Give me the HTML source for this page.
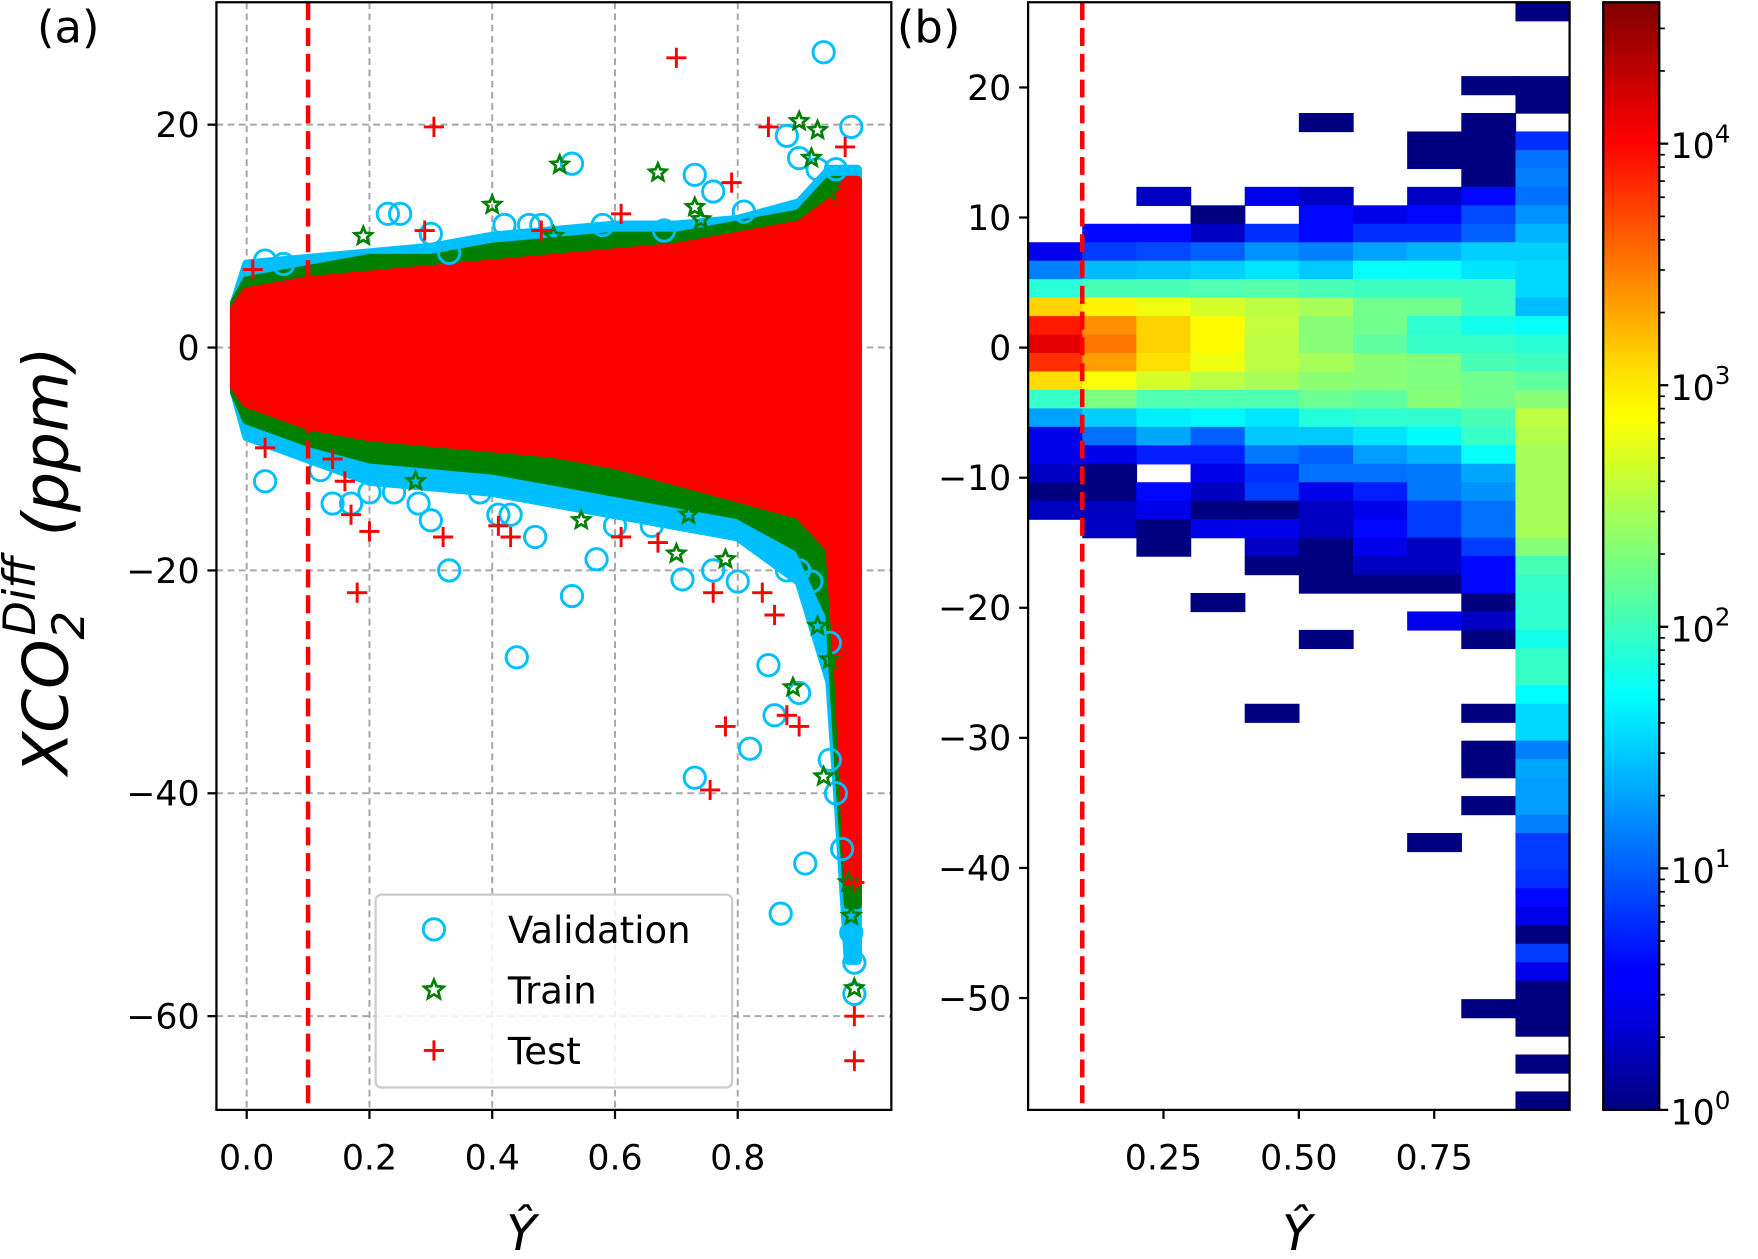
<!DOCTYPE html>
<html><head><meta charset="utf-8">
<style>
html,body{margin:0;padding:0;background:#fff;}
svg{display:block;font-family:"DejaVu Sans","Liberation Sans",sans-serif;}
</style></head>
<body>
<svg id="fig" width="1758" height="1259" viewBox="0 0 1568 1123" xmlns="http://www.w3.org/2000/svg">
<defs>
<linearGradient id="jetgrad" x1="0" y1="1" x2="0" y2="0">
<stop offset="0" stop-color="#000080"/><stop offset="0.11" stop-color="#0000ff"/>
<stop offset="0.125" stop-color="#0000ff"/><stop offset="0.34" stop-color="#00dcff"/>
<stop offset="0.375" stop-color="#00ffff" /><stop offset="0.5" stop-color="#7dff7a"/>
<stop offset="0.625" stop-color="#ffff00"/><stop offset="0.66" stop-color="#ffe600"/>
<stop offset="0.875" stop-color="#ff0000"/><stop offset="1" stop-color="#800000"/>
</linearGradient>
<clipPath id="clipA"><rect x="193" y="2" width="602" height="988"/></clipPath>
<clipPath id="clipB"><rect x="917" y="2" width="483" height="988"/></clipPath>
</defs>
<g id="panelA"></g>
<g id="panelB"></g>
<g id="cbar"></g>
</svg>
<script>
// ---------- Panel (a) data ----------
const bandX    = [-0.02, 0.0, 0.1, 0.2, 0.3, 0.4, 0.5, 0.6, 0.7, 0.8, 0.9, 0.95, 0.965, 0.98, 0.995];
const valUpper = [4, 7.5, 8, 8.5, 9, 10, 10.5, 11, 11, 11.5, 13, 16, 16, 16, 16];
const valLower = [-4, -8, -10, -12, -12.5, -13, -14, -15, -16, -17, -21, -30, -42, -55, -55];
const trnUpper = [4, 6, 7, 8, 8, 9, 9.5, 10, 10, 11, 12, 15, 15, 15, 15];
const trnLower = [-4, -6.5, -8.5, -10, -10.5, -11, -12, -13, -14, -15, -18, -24, -38, -50, -50];
const tstUpper = [3.5, 5, 6, 6.5, 7, 7.5, 8, 8.5, 9, 10, 11, 13, 14, 15, 15];
const tstLower = [-3.5, -5, -7, -8, -8.5, -9, -9.5, -10.5, -12, -13.5, -15, -18, -30, -48, -48];
const valX = [0.94,0.985,0.53,0.73,0.76,0.81,0.23,0.25,0.42,0.46,0.48,0.58,0.68,0.30,0.33,0.03,0.06,0.88,0.90,0.93,0.96,0.12,0.03,0.14,0.17,0.20,0.24,0.28,0.30,0.33,0.38,0.41,0.43,0.47,0.53,0.44,0.57,0.60,0.66,0.71,0.76,0.80,0.85,0.86,0.82,0.73,0.91,0.87,0.99,0.985,0.97,0.96,0.95,0.90,0.88,0.90,0.92,0.95,0.99];
const valY = [26.5,19.8,16.5,15.5,14,12.2,12,12,11,11,11,11,10.5,10.2,8.5,7.8,7.5,19,17,16,16,-11,-12,-14,-14,-13,-13,-14,-15.5,-20,-13,-15,-15,-17,-22.3,-27.8,-19,-16,-16,-20.8,-20,-21,-28.5,-33,-36,-38.6,-46.3,-50.8,-55.2,-52.5,-45,-40,-37,-31,-20,-20,-21,-26.5,-58];
const trnX = [0.90,0.93,0.51,0.67,0.73,0.74,0.40,0.19,0.50,0.92,0.95,0.275,0.545,0.72,0.70,0.78,0.89,0.94,0.99,0.985,0.98,0.93,0.95];
const trnY = [20.3,19.5,16.4,15.7,12.6,11.5,12.8,10,10,17,14,-12,-15.5,-15,-18.5,-19,-30.5,-38.5,-57.5,-51,-48,-25,-28];
const tstX = [0.70,0.305,0.85,0.975,0.79,0.61,0.48,0.29,0.01,0.03,0.20,0.18,0.17,0.32,0.41,0.43,0.61,0.67,0.76,0.84,0.86,0.78,0.755,0.88,0.90,0.99,0.99,0.99,0.14,0.16];
const tstY = [26,19.8,19.8,18,14.8,12,10.5,10.5,7,-9,-16.5,-22,-15,-17,-16,-17,-17,-17.5,-22,-22,-24,-34,-39.7,-33,-34,-60,-64,-48,-10,-12];
const xTicksA = [0.0, 0.2, 0.4, 0.6, 0.8];
const yTicksA = [20, 0, -20, -40, -60];
const threshold = 0.1;

// ---------- Panel (b) data: counts per Y-hat bin (10 columns), 60 y-bins from top ----------
const binXEdges = [0,0.1,0.2,0.3,0.4,0.5,0.6,0.7,0.8,0.9,1.0];
const yMinB = -58.6, yMaxB = 26.55, nYBins = 60;
const col0 = [0,0,0,0,0,0,0,0,0,0,0,0,0,3,14,79,1175,7943,13490,6310,1047,93,20,3,3,2,1,2,0,0,0,0,0,0,0,0,0,0,0,0,0,0,0,0,0,0,0,0,0,0,0,0,0,0,0,0,0,0,0,0];
const col1 = [0,0,0,0,0,0,0,0,0,0,0,0,4,7,26,112,832,2344,3020,1995,692,195,32,12,3,1,1,2,2,0,0,0,0,0,0,0,0,0,0,0,0,0,0,0,0,0,0,0,0,0,0,0,0,0,0,0,0,0,0,0];
const col2 = [0,0,0,0,0,0,0,0,0,0,2,0,4,8,28,112,631,1175,1175,1000,479,120,45,21,5,0,4,3,1,1,0,0,0,0,0,0,0,0,0,0,0,0,0,0,0,0,0,0,0,0,0,0,0,0,0,0,0,0,0,0];
const col3 = [0,0,0,0,0,0,0,0,0,0,0,1,2,10,32,120,479,759,759,631,372,120,50,10,5,3,2,1,3,0,0,0,1,0,0,0,0,0,0,0,0,0,0,0,0,0,0,0,0,0,0,0,0,0,0,0,0,0,0,0];
const col4 = [0,0,0,0,0,0,0,0,0,0,3,0,6,17,40,126,372,398,372,372,295,120,40,30,13,6,7,1,3,2,1,0,0,0,0,0,0,0,1,0,0,0,0,0,0,0,0,0,0,0,0,0,0,0,0,0,0,0,0,0];
const col5 = [0,0,0,0,0,0,1,0,0,0,2,4,4,14,30,112,295,214,214,295,224,158,76,30,10,12,3,2,2,1,1,1,0,0,1,0,0,0,0,0,0,0,0,0,0,0,0,0,0,0,0,0,0,0,0,0,0,0,0,0];
const col6 = [0,0,0,0,0,0,0,0,0,0,0,3,6,20,56,100,170,170,141,214,214,141,85,40,19,12,5,3,4,3,2,1,0,0,0,0,0,0,0,0,0,0,0,0,0,0,0,0,0,0,0,0,0,0,0,0,0,0,0,0];
const col7 = [0,0,0,0,0,0,0,1,1,0,2,4,6,24,56,100,170,85,93,195,195,214,85,52,24,13,13,7,7,2,2,1,0,3,0,0,0,0,0,0,0,0,0,0,0,1,0,0,0,0,0,0,0,0,0,0,0,0,0,0];
const col8 = [0,0,0,0,1,0,1,1,1,1,4,8,10,32,40,100,100,63,93,112,170,170,112,93,56,21,17,12,12,7,4,4,1,2,1,0,0,0,1,0,1,1,0,1,0,0,0,0,0,0,0,0,0,0,1,0,0,0,0,0];
const col9 = [1,0,0,0,1,1,0,6,12,14,12,17,24,32,35,35,26,56,79,100,141,214,372,331,295,295,295,295,295,214,112,93,85,85,63,93,93,52,35,35,14,21,19,19,14,7,7,6,4,3,1,7,3,1,1,1,0,1,0,1];
const histColumns = [col0,col1,col2,col3,col4,col5,col6,col7,col8,col9];
const xTicksB = [0.25, 0.50, 0.75];
const yTicksB = [20, 10, 0, -10, -20, -30, -40, -50];
const cbarMax = 38500;
const cbarTicks = [0, 1, 2, 3, 4];

// ---------- helpers ----------
const NS = "http://www.w3.org/2000/svg";
function mk(tag, attrs, parent){ const e=document.createElementNS(NS,tag); for(const k in attrs) e.setAttribute(k,attrs[k]); parent.appendChild(e); return e; }
const xA = v => 220 + 547.5*v;
const yA = v => 310 - 9.94*v;
const xB = v => 917 + 483*v;
const yB = v => 2 + (yMaxB - v)/(yMaxB - yMinB)*988;
const cbY = L => 990 - 988*L/Math.log10(cbarMax);
function clamp(a){return Math.max(0,Math.min(1,a));}
function jet(t){
  const r=clamp(1.5-Math.abs(4*t-3)), g=clamp(1.5-Math.abs(4*t-2)), b=clamp(1.5-Math.abs(4*t-1));
  return `rgb(${Math.round(r*255)},${Math.round(g*255)},${Math.round(b*255)})`;
}

// ---------- Panel (a) ----------
const A = document.getElementById('panelA');
const gridA = mk('g',{},A);


xTicksA.forEach(v=>{ mk('line',{x1:xA(v),x2:xA(v),y1:2,y2:990,stroke:'#a8a8a8','stroke-width':1.8,'stroke-dasharray':'6,4'},gridA); });
yTicksA.forEach(v=>{ mk('line',{x1:193,x2:795,y1:yA(v),y2:yA(v),stroke:'#a8a8a8','stroke-width':1.8,'stroke-dasharray':'6,4'},gridA); });
const dataA = mk('g',{'clip-path':'url(#clipA)'},A);
function band(upper, lower, color, name){
  let pts = bandX.map((x,i)=>`${xA(x)},${yA(upper[i])}`);
  for(let i=bandX.length-1;i>=0;i--) pts.push(`${xA(bandX[i])},${yA(lower[i])}`);
  const p = mk('polygon',{points:pts.join(' '),fill:color,stroke:color,'stroke-width':8,'stroke-linejoin':'round'},dataA);
  
  
}
band(valUpper,valLower,'#00bfff','validation-core');
band(trnUpper,trnLower,'#008000','train-core');
band(tstUpper,tstLower,'#ff0000','test-core');
function circle(x,y,g){ mk('circle',{cx:x,cy:y,r:9.5,fill:'none',stroke:'#00bfff','stroke-width':2.6},g); }
function star(x,y,g,s){ s=s||8; let p=[]; for(let i=0;i<10;i++){const r=i%2?s*0.45:s; const a=-Math.PI/2+i*Math.PI/5; p.push((x+r*Math.cos(a)).toFixed(1)+','+(y+r*Math.sin(a)).toFixed(1));} mk('polygon',{points:p.join(' '),fill:'none',stroke:'#008000','stroke-width':2.4},g); }
function plus(x,y,g){ mk('path',{d:`M${x-9},${y}H${x+9}M${x},${y-9}V${y+9}`,stroke:'#ff0000','stroke-width':2.6},g); }
const vg = mk('g',{},dataA);  
valX.forEach((x,i)=>circle(xA(x),yA(valY[i]),vg));
const tg = mk('g',{},dataA);  
trnX.forEach((x,i)=>star(xA(x),yA(trnY[i]),tg));
const sg = mk('g',{},dataA);  
tstX.forEach((x,i)=>plus(xA(x),yA(tstY[i]),sg));
const thA = mk('line',{x1:xA(threshold),x2:xA(threshold),y1:2,y2:990,stroke:'#ff0000','stroke-width':4,'stroke-dasharray':'16,7'},A);


mk('rect',{x:193,y:2,width:602,height:988,fill:'none',stroke:'#000','stroke-width':2},A);
xTicksA.forEach(v=>{
  mk('line',{x1:xA(v),x2:xA(v),y1:990,y2:998,stroke:'#000','stroke-width':2},A);
  const t=mk('text',{x:xA(v),y:1043,'font-size':31,'text-anchor':'middle'},A); t.textContent=v.toFixed(1);
  
  
});
yTicksA.forEach(v=>{
  mk('line',{x1:185,x2:193,y1:yA(v),y2:yA(v),stroke:'#000','stroke-width':2},A);
  const t=mk('text',{x:178,y:yA(v)+11,'font-size':31,'text-anchor':'end'},A); t.textContent=(v<0?'\u2212':'')+Math.abs(v);
  
  
});
const lg = mk('g',{},A);  
mk('rect',{x:335,y:798,width:318,height:172,rx:5,fill:'#fff','fill-opacity':0.85,stroke:'#cccccc','stroke-width':2},lg);
circle(387,829,lg); star(387,883,lg,9); plus(387,937,lg);
[['Validation',829],['Train',883],['Test',937]].forEach(([s,y])=>{
  const t=mk('text',{x:453,y:y+12,'font-size':33},lg); t.textContent=s;
  
  
});

// ---------- Panel (b) ----------
const B = document.getElementById('panelB');
const cells = mk('g',{'clip-path':'url(#clipB)'},B);


const binH = (yMaxB - yMinB)/nYBins;
const Lmax = Math.log10(cbarMax);
histColumns.forEach((col,ci)=>{
  col.forEach((cnt,ri)=>{
    if(!cnt) return;
    const top = yMaxB - ri*binH, bot = top - binH;
    const x0 = xB(binXEdges[ci]), x1 = xB(binXEdges[ci+1]);
    const r = mk('rect',{x:x0,y:yB(top),width:x1-x0+0.6,height:yB(bot)-yB(top)+0.6,fill:jet(Math.log10(cnt)/Lmax)},cells);
    
    
  });
});
const thB = mk('line',{x1:xB(threshold),x2:xB(threshold),y1:2,y2:990,stroke:'#ff0000','stroke-width':4,'stroke-dasharray':'16,7'},B);


mk('rect',{x:917,y:2,width:483,height:988,fill:'none',stroke:'#000','stroke-width':2},B);
xTicksB.forEach(v=>{
  mk('line',{x1:xB(v),x2:xB(v),y1:990,y2:998,stroke:'#000','stroke-width':2},B);
  const t=mk('text',{x:xB(v),y:1043,'font-size':31,'text-anchor':'middle'},B); t.textContent=v.toFixed(2);
  
  
});
yTicksB.forEach(v=>{
  mk('line',{x1:909,x2:917,y1:yB(v),y2:yB(v),stroke:'#000','stroke-width':2},B);
  const t=mk('text',{x:902,y:yB(v)+11,'font-size':31,'text-anchor':'end'},B); t.textContent=(v<0?'\u2212':'')+Math.abs(v);
  
  
});

// ---------- colorbar ----------
const C = document.getElementById('cbar');
mk('rect',{x:1430,y:2,width:50,height:988,fill:'url(#jetgrad)'},C);
mk('rect',{x:1430,y:2,width:50,height:988,fill:'none',stroke:'#000','stroke-width':2},C);
for(let d=0; d<5; d++){
  for(let m=2;m<=9;m++){
    const L = d+Math.log10(m); if(L>Lmax) break;
    mk('line',{x1:1480,x2:1485,y1:cbY(L),y2:cbY(L),stroke:'#000','stroke-width':1.5},C);
  }
}
cbarTicks.forEach(L=>{
  mk('line',{x1:1480,x2:1488,y1:cbY(L),y2:cbY(L),stroke:'#000','stroke-width':2},C);
  const t=mk('text',{x:1490,y:cbY(L)+13,'font-size':31},C);
  
  
  t.textContent='10';
  const s=mk('tspan',{dy:-14,'font-size':22},t); s.textContent=String(L);
});
</script>
<script>
const F=document.getElementById('fig');
function T(x,y,s,txt,extra,name){const t=document.createElementNS("http://www.w3.org/2000/svg",'text');t.setAttribute('x',x);t.setAttribute('y',y);t.setAttribute('font-size',s);for(const k in extra)t.setAttribute(k,extra[k]);t.textContent=txt;F.appendChild(t);return t;}
T(33,38,40,'(a)',{},'panel-label-a');
T(800,38,40,'(b)',{},'panel-label-b');
T(465,1115,44,'Ŷ',{'text-anchor':'middle','font-style':'italic'},'x-axis-title-a');
T(1157,1115,44,'Ŷ',{'text-anchor':'middle','font-style':'italic'},'x-axis-title-b');
const yt=T(0,0,56,'',{'font-style':'italic',transform:'translate(60,500) rotate(-90)','text-anchor':'middle'},'y-axis-title');
yt.innerHTML='XCO<tspan dy="15" font-size="40">2</tspan><tspan dy="-44" dx="-22" font-size="40">Diff</tspan><tspan dy="29"> (ppm)</tspan>';
</script>
</body></html>
